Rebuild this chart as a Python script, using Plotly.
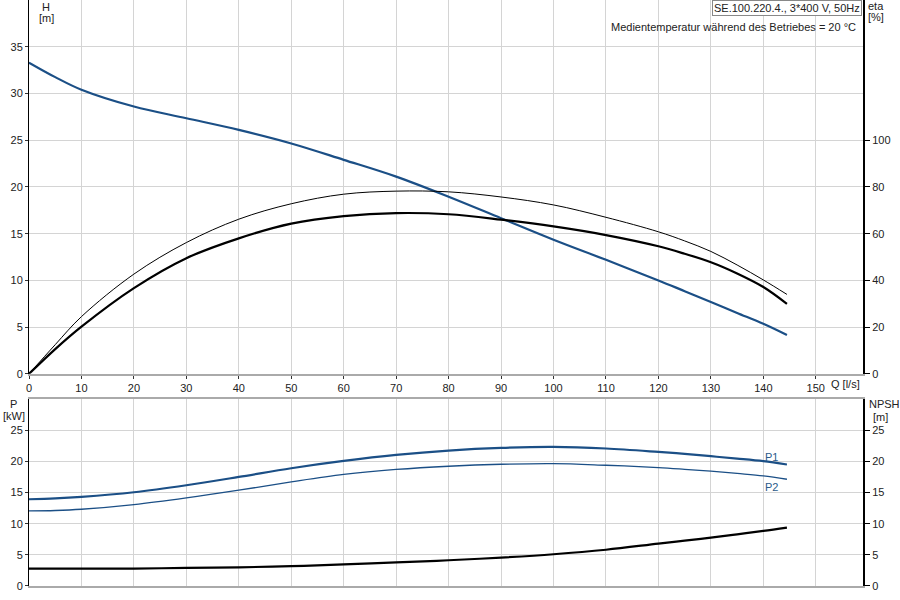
import plotly.graph_objects as go

# flow rate Q [l/s]
q = [0, 5, 10, 20, 30, 40, 50, 60, 70, 80, 90, 100, 110, 120, 125, 130, 135, 140, 144.5]

# head H [m]
head = [33.3, 31.75, 30.4, 28.6, 27.35, 26.1, 24.65, 22.9, 21.1, 18.95, 16.65, 14.35, 12.2, 10.0, 8.85, 7.7, 6.52, 5.35, 4.15]
# efficiencies eta [%]
eta_thick = [0, 10.6, 20.2, 36.7, 49.5, 58.0, 64.3, 67.5, 68.8, 68.3, 66.0, 63.1, 59.4, 54.6, 51.4, 47.8, 43.0, 37.2, 30.0]
eta_thin = [0, 12.5, 24.5, 42.7, 56.2, 66.2, 72.8, 76.9, 78.2, 77.9, 75.7, 72.3, 67.0, 60.8, 56.9, 52.4, 46.6, 40.2, 34.0]
# power [kW]
p1 = [13.92, 14.05, 14.3, 15.05, 16.17, 17.5, 18.9, 20.07, 21.04, 21.74, 22.17, 22.33, 22.07, 21.52, 21.2, 20.83, 20.45, 20.03, 19.5]
p2 = [12.05, 12.12, 12.32, 13.07, 14.14, 15.37, 16.7, 17.9, 18.7, 19.22, 19.54, 19.65, 19.38, 19.01, 18.73, 18.42, 18.06, 17.67, 17.13]
# NPSH [m]
npsh = [2.79, 2.79, 2.79, 2.8, 2.9, 3.0, 3.18, 3.48, 3.8, 4.13, 4.56, 5.1, 5.82, 6.8, 7.27, 7.77, 8.3, 8.84, 9.38]

q_ticks = [0, 10, 20, 30, 40, 50, 60, 70, 80, 90, 100, 110, 120, 130, 140, 150]
h_ticks = [0, 5, 10, 15, 20, 25, 30, 35]
eta_ticks = [0, 20, 40, 60, 80, 100]
p_ticks = [0, 5, 10, 15, 20, 25]

BLUE = "#1b4f86"
GRID = "#d4d4d4"
FONT = dict(family="Liberation Sans, Arial", size=11, color="#222")

fig = go.Figure()
fig.add_trace(go.Scatter(x=q, y=head, mode="lines", line=dict(color=BLUE, width=2.2, shape="spline"),
                         xaxis="x", yaxis="y"))
fig.add_trace(go.Scatter(x=q, y=eta_thin, mode="lines", line=dict(color="black", width=1, shape="spline"),
                         xaxis="x", yaxis="y2"))
fig.add_trace(go.Scatter(x=q, y=eta_thick, mode="lines", line=dict(color="black", width=2.2, shape="spline"),
                         xaxis="x", yaxis="y2"))
fig.add_trace(go.Scatter(x=q, y=p1, mode="lines", line=dict(color=BLUE, width=2.2, shape="spline"),
                         xaxis="x2", yaxis="y3"))
fig.add_trace(go.Scatter(x=q, y=p2, mode="lines", line=dict(color=BLUE, width=1.3, shape="spline"),
                         xaxis="x2", yaxis="y3"))
fig.add_trace(go.Scatter(x=q, y=npsh, mode="lines", line=dict(color="black", width=2.2, shape="spline"),
                         xaxis="x2", yaxis="y4"))

top_dom = [0.362, 1.0]
bot_dom = [0.0, 0.319]

xcommon = dict(range=[0, 159], tickvals=q_ticks, showgrid=True, gridcolor=GRID, gridwidth=1,
               showline=True, linecolor="#aaaaaa", linewidth=2, zeroline=False, automargin=False,
               ticks="outside", ticklen=3, tickcolor="#333", tickfont=FONT)
yleft = dict(showgrid=True, gridcolor=GRID, showline=True, linecolor="black", linewidth=1,
             zeroline=False, automargin=False, ticks="outside", ticklen=3, tickcolor="#333", tickfont=FONT)
yright = dict(showgrid=False, showline=True, linecolor="black", linewidth=2, zeroline=False,
              automargin=False, ticks="outside", ticklen=5, tickcolor="black", tickfont=FONT)

fig.update_layout(
    width=900, height=600,
    margin=dict(l=29, r=37, t=0, b=14),
    paper_bgcolor="white", plot_bgcolor="white",
    showlegend=False,
    font=FONT,
    xaxis=dict(xcommon, anchor="y"),
    xaxis2=dict(xcommon, anchor="y3", showticklabels=False, ticks="", mirror=True, matches="x"),
    yaxis=dict(yleft, domain=top_dom, range=[0, 40], tickvals=h_ticks),
    yaxis2=dict(yright, overlaying="y", side="right", anchor="x", range=[0, 160], tickvals=eta_ticks),
    yaxis3=dict(yleft, domain=bot_dom, anchor="x2", range=[0, 30], tickvals=p_ticks),
    yaxis4=dict(yright, overlaying="y3", side="right", anchor="x2", range=[0, 30], tickvals=p_ticks),
)

def px_x(px):
    return (px - 29) / 834.0

def px_y(py):
    return (586 - py) / 586.0

notes = [
    dict(text="H", x=px_x(46), y=px_y(7), xanchor="center", yanchor="middle"),
    dict(text="[m]", x=px_x(46), y=px_y(18), xanchor="center", yanchor="middle"),
    dict(text="eta", x=px_x(876), y=px_y(6), xanchor="center", yanchor="middle"),
    dict(text="[%]", x=px_x(876), y=px_y(17), xanchor="center", yanchor="middle"),
    dict(text="Medientemperatur während des Betriebes = 20 °C", x=px_x(858), y=px_y(27),
         xanchor="right", yanchor="middle"),
    dict(text="Q [l/s]", x=px_x(845), y=px_y(384), xanchor="center", yanchor="middle"),
    dict(text="P", x=px_x(13), y=px_y(404), xanchor="center", yanchor="middle"),
    dict(text="[kW]", x=px_x(14), y=px_y(416), xanchor="center", yanchor="middle"),
    dict(text="NPSH", x=px_x(884), y=px_y(404), xanchor="center", yanchor="middle"),
    dict(text="[m]", x=px_x(880), y=px_y(417), xanchor="center", yanchor="middle"),
]
for n in notes:
    fig.add_annotation(xref="paper", yref="paper", showarrow=False, font=FONT, **n)

fig.add_annotation(text="SE.100.220.4., 3*400 V, 50Hz", xref="paper", yref="paper",
                   x=px_x(862), y=px_y(0), xanchor="right", yanchor="top", showarrow=False,
                   font=FONT, bgcolor="white", bordercolor="#888", borderwidth=1, borderpad=1)

fig.add_annotation(text="P1", x=141.5, y=20.7, xref="x2", yref="y3", showarrow=False,
                   font=dict(family="Liberation Sans, Arial", size=11, color="#2a5a8a"))
fig.add_annotation(text="P2", x=141.5, y=15.9, xref="x2", yref="y3", showarrow=False,
                   font=dict(family="Liberation Sans, Arial", size=11, color="#2a5a8a"))

# page body has a default 8px margin, drop it so the chart sits at the window corner
fig.write_html("out.html", config={"displayModeBar": False},
               post_script="document.body.style.margin='0';")
